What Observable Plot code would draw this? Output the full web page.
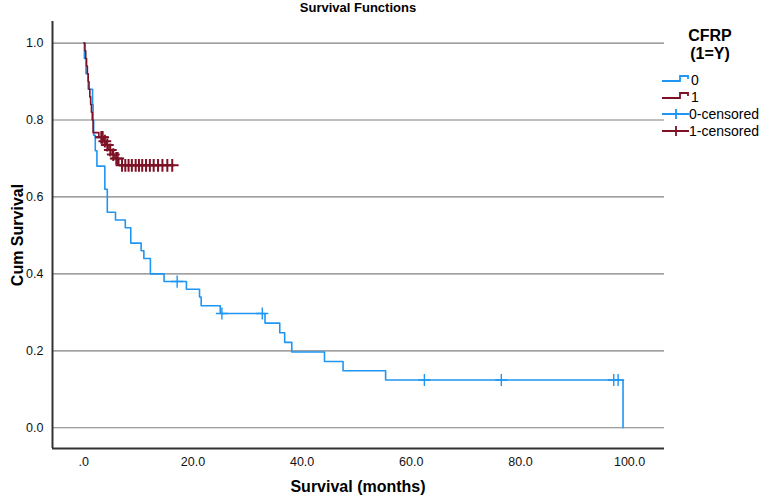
<!DOCTYPE html>
<html>
<head>
<meta charset="utf-8">
<script src="https://cdn.jsdelivr.net/npm/d3@7"></script>
<script src="https://cdn.jsdelivr.net/npm/@observablehq/plot@0.6"></script>
<style>
  body { margin: 0; background: #fff; font-family: "Liberation Sans", Arial, sans-serif; }
  #wrap { position: relative; width: 759px; height: 502px; overflow: hidden; }
  #chart { position: absolute; left: 0; top: 0; }
  .lbl { position: absolute; color: #000; white-space: nowrap; }
  .bold { font-weight: bold; }
</style>
</head>
<body>
<div id="wrap">
  <div id="chart"></div>
  <div class="lbl bold" style="left:0;width:716px;text-align:center;top:1px;font-size:13px;line-height:14px;">Survival Functions</div>
  <div class="lbl bold" style="left:358px;top:478px;transform:translateX(-50%);font-size:16px;">Survival (months)</div>
  <div class="lbl bold" style="left:18px;top:235px;transform:translate(-50%,-50%) rotate(-90deg);font-size:16px;">Cum Survival</div>
  <div id="legend" class="lbl" style="left:660px;top:27px;width:99px;"></div>
</div>
<script>
// ---------- data ----------
const groupNames = ["0", "1"];
const groupColors = ["#1f96f3", "#7e1126"];
const legendTitle = ["CFRP", "(1=Y)"];
const legendLabels = ["0", "1", "0-censored", "1-censored"];

// group 0 (CFRP = 0): event times (months) and cumulative survival after each step
const g0Time = [0, 0.1, 0.4, 0.8, 1.6, 1.7, 1.8, 2.1, 2.4, 3.85, 4.3, 5.8, 7.6, 8.6, 10.5, 11.0, 12.2, 14.7, 18.8, 21.2, 21.5, 25.0, 33.2, 35.9, 36.8, 38.1, 44.1, 47.5, 55.3, 98.8];
const g0Surv = [1, 0.96, 0.92, 0.88, 0.84, 0.80, 0.76, 0.72, 0.68, 0.62, 0.56, 0.54, 0.52, 0.48, 0.46, 0.44, 0.40, 0.38, 0.36, 0.34, 0.317, 0.297, 0.272, 0.247, 0.222, 0.197, 0.172, 0.148, 0.124, 0];
const g0Censor = [17.1, 25.3, 32.7, 62.4, 76.5, 97.1, 97.9];

// group 1 (CFRP = 1)
const g1Time = [0, 0.2, 0.35, 0.5, 0.65, 0.8, 0.95, 1.1, 1.25, 1.4, 1.55, 1.7, 2.75, 3.6, 4.1, 4.6, 5.2, 5.7, 6.4, 16.5];
const g1Surv = [1, 0.98, 0.96, 0.94, 0.92, 0.90, 0.88, 0.86, 0.84, 0.82, 0.80, 0.767, 0.755, 0.745, 0.735, 0.722, 0.71, 0.70, 0.682, 0.682];
const g1Censor = [3.2, 3.45, 3.85, 4.3, 4.85, 5.4, 5.95, 6.2, 7.0, 7.6, 8.2, 8.8, 9.5, 10.1, 10.7, 11.4, 12.1, 12.8, 13.6, 14.4, 15.3, 16.2];

const xTicks = [0, 20, 40, 60, 80, 100];
const yTicks = [0, 0.2, 0.4, 0.6, 0.8, 1.0];
const xDomain = [-5.74, 106.4];
const yDomain = [-0.054, 1.056];

// ---------- build tables ----------
const curve = (times, surv, g) => times.map((t, i) => ({t, s: surv[i], g}));
const lookup = (times, surv, t) => { let s = surv[0]; for (let i = 0; i < times.length; i++) if (times[i] <= t) s = surv[i]; return s; };
const censor = (cs, times, surv, g) => cs.map(t => ({t, s: lookup(times, surv, t), g}));

const c0 = curve(g0Time, g0Surv, groupNames[0]);
const c1 = curve(g1Time, g1Surv, groupNames[1]);
const k0 = censor(g0Censor, g0Time, g0Surv, groupNames[0]);
const k1 = censor(g1Censor, g1Time, g1Surv, groupNames[1]);

const chart = Plot.plot({
  width: 759,
  height: 502,
  marginLeft: 52,
  marginRight: 95,
  marginTop: 21,
  marginBottom: 54,
  style: {fontFamily: "'Liberation Sans', Arial, sans-serif", fontSize: "12.5px", color: "#111", background: "#fff"},
  x: {domain: xDomain, ticks: xTicks, tickSize: 0, tickPadding: 9, label: null,
      tickFormat: d => d === 0 ? ".0" : d.toFixed(1)},
  y: {domain: yDomain, ticks: yTicks, tickSize: 0, tickPadding: 9, label: null,
      tickFormat: d => d.toFixed(1)},
  marks: [
    Plot.ruleY(yTicks, {stroke: "#808080", strokeWidth: 1.2, strokeOpacity: 1}),
    Plot.ruleX([xDomain[0]], {stroke: "#333", strokeWidth: 2}),
    Plot.ruleY([yDomain[0]], {stroke: "#333", strokeWidth: 2}),
    Plot.line(c0, {x: "t", y: "s", curve: "step-after", stroke: groupColors[0], strokeWidth: 1.6}),
    Plot.dot(k0, {x: "t", y: "s", symbol: "plus", r: 4, stroke: groupColors[0], strokeWidth: 1.4}),
    Plot.line(c1, {x: "t", y: "s", curve: "step-after", stroke: groupColors[1], strokeWidth: 1.6}),
    Plot.dot(k1, {x: "t", y: "s", symbol: "plus", r: 4.2, stroke: groupColors[1], strokeWidth: 2})
  ]
});
document.getElementById("chart").appendChild(chart);

// ---------- legend ----------
const leg = document.getElementById("legend");
let html = `<div style="text-align:center;font-weight:bold;font-size:16px;line-height:18px;width:100px;">${legendTitle[0]}<br>${legendTitle[1]}</div>`;
html += `<div style="height:8px"></div>`;
legendLabels.forEach((lab, i) => {
  const col = groupColors[i % 2];
  const icon = i < 2
    ? `<path d="M2,9 H20 V4 H28 V7" fill="none" stroke="${col}" stroke-width="1.8"/>`
    : `<path d="M2,8 H30 M16,3 V13" fill="none" stroke="${col}" stroke-width="1.8"/>`;
  html += `<div style="display:flex;align-items:center;height:17px;font-size:14px;">
    <svg width="31" height="16" style="margin-right:0px">${icon}</svg><span>${lab}</span></div>`;
});
leg.innerHTML = html;
</script>
</body>
</html>
